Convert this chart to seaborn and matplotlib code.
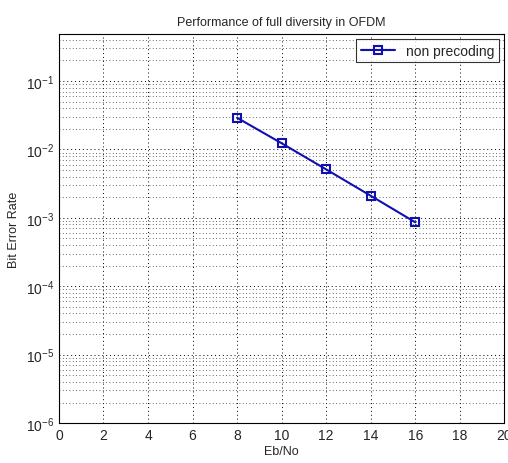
import matplotlib
matplotlib.use("Agg")
import matplotlib.pyplot as plt
import seaborn as sns
import pandas as pd
from matplotlib.ticker import LogLocator, NullFormatter

# data
ebno = [8, 10, 12, 14, 16]
ber = [0.029, 0.0123, 0.0051, 0.0021, 0.00086]
series_name = "non precoding"

df = pd.DataFrame({"Eb/No": ebno, "BER": ber, "series": series_name})

sns.set_style("white")
plt.rcParams["font.family"] = ["Liberation Sans", "DejaVu Sans"]

fig = plt.figure(figsize=(5.08, 4.64), dpi=100)
ax = fig.add_axes([0.116, 0.086, 0.877, 0.839])

sns.lineplot(data=df, x="Eb/No", y="BER", hue="series", palette=["#1010b0"],
             marker="s", markersize=6, markerfacecolor="none",
             markeredgecolor="#1010b0", markeredgewidth=1.5, linewidth=1.5, ax=ax)

ax.set_yscale("log")
ax.set_xlim(0, 20)
ax.set_ylim(1e-6, 0.49)
ax.set_xticks(range(0, 21, 2))
ax.yaxis.set_major_locator(LogLocator(base=10, numticks=10))
ax.yaxis.set_minor_locator(LogLocator(base=10, subs=range(2, 10), numticks=20))
ax.yaxis.set_minor_formatter(NullFormatter())

ax.grid(True, which="major", linestyle=(0, (1, 3)), color="black", linewidth=0.7)
ax.grid(True, which="minor", axis="y", linestyle=(0, (1, 3)), color="#333333", linewidth=0.6)
ax.tick_params(axis="both", which="both", direction="in", labelsize=10, length=4)
ax.tick_params(which="minor", length=2)
for s in ax.spines.values():
    s.set_color("black")
    s.set_linewidth(0.8)

ax.set_title("Performance of full diversity in OFDM", fontsize=9)
ax.set_xlabel("Eb/No", fontsize=9, labelpad=2)
ax.set_ylabel("Bit Error Rate", fontsize=9)

leg = ax.legend(loc="upper right", fontsize=10, frameon=True, fancybox=False,
                handlelength=2.5, borderaxespad=0.4, borderpad=0.3)
leg.get_frame().set_edgecolor("black")
leg.get_frame().set_linewidth(0.8)

fig.savefig("out.png", dpi=100)
